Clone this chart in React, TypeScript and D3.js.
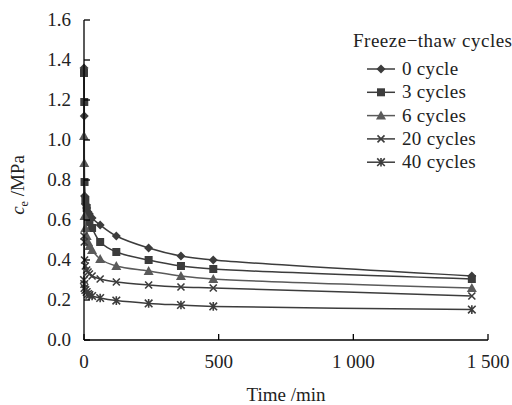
import React from "react";
import * as d3 from "d3";

const times = [0, 1, 2, 5, 10, 15, 20, 30, 60, 120, 240, 360, 480, 1440];
const seriesNames = ["0 cycle", "3 cycles", "6 cycles", "20 cycles", "40 cycles"];
const cycles0 = [1.36, 1.12, 0.72, 0.68, 0.66, 0.64, 0.63, 0.61, 0.575, 0.52, 0.46, 0.42, 0.40, 0.32];
const cycles3 = [1.335, 1.19, 0.79, 0.70, 0.66, 0.62, 0.59, 0.56, 0.49, 0.44, 0.40, 0.37, 0.355, 0.305];
const cycles6 = [1.02, 0.885, 0.62, 0.56, 0.52, 0.49, 0.47, 0.45, 0.405, 0.37, 0.345, 0.32, 0.305, 0.26];
const cycles20 = [0.52, 0.49, 0.40, 0.37, 0.35, 0.34, 0.33, 0.32, 0.305, 0.29, 0.275, 0.265, 0.26, 0.22];
const cycles40 = [0.30, 0.28, 0.26, 0.25, 0.24, 0.23, 0.225, 0.22, 0.21, 0.197, 0.183, 0.175, 0.168, 0.152];
const allSeries = [cycles0, cycles3, cycles6, cycles20, cycles40];
const markerTypes = ["diamond", "square", "triangle", "x", "star"];
const colors = ["#3c3c3c", "#3c3c3c", "#5a5a5a", "#3c3c3c", "#3c3c3c"];
const yTicks = [0, 0.2, 0.4, 0.6, 0.8, 1.0, 1.2, 1.4, 1.6];
const xTicks = [0, 500, 1000, 1500];
const xTickLabels = ["0", "500", "1 000", "1 500"];

const FONT = "'Liberation Serif', 'Times New Roman', serif";
const FS = 19;

function Marker({ type, x, y, color }: { type: string; x: number; y: number; color: string }) {
  if (type === "diamond") {
    const r = 4.5;
    return <path d={`M${x},${y - r}L${x + r},${y}L${x},${y + r}L${x - r},${y}Z`} fill={color} />;
  }
  if (type === "square") {
    const r = 4;
    return <rect x={x - r} y={y - r} width={2 * r} height={2 * r} fill={color} />;
  }
  if (type === "triangle") {
    const r = 5;
    return <path d={`M${x},${y - r}L${x + r},${y + r * 0.8}L${x - r},${y + r * 0.8}Z`} fill={color} />;
  }
  if (type === "x") {
    const r = 3.5;
    return (
      <path d={`M${x - r},${y - r}L${x + r},${y + r}M${x - r},${y + r}L${x + r},${y - r}`} stroke={color} strokeWidth={1.6} fill="none" />
    );
  }
  const r = 3.8;
  return (
    <path
      d={`M${x - r},${y - r}L${x + r},${y + r}M${x - r},${y + r}L${x + r},${y - r}M${x},${y - r - 0.5}L${x},${y + r + 0.5}`}
      stroke={color}
      strokeWidth={1.6}
      fill="none"
    />
  );
}

export default function App() {
  const x = d3.scaleLinear().domain([0, 1500]).range([84, 488]);
  const y = d3.scaleLinear().domain([0, 1.6]).range([340, 20]);
  const line = d3
    .line<number>()
    .x((_, i) => x(times[i]))
    .y((d) => y(d))
    .curve(d3.curveCatmullRom.alpha(0.5));

  const legendX = 367;
  const legendY0 = 69;
  const legendDy = 23.3;

  return (
    <svg width={512} height={405} style={{ position: "absolute", left: 0, top: 0, background: "#fff" }} fontFamily={FONT}>
      <rect width={512} height={405} fill="#fff" />
      {allSeries.map((s, si) => (
        <path key={"l" + si} d={line(s) || ""} fill="none" stroke={colors[si]} strokeWidth={1.5} />
      ))}
      {allSeries.map((s, si) =>
        s.map((v, i) => <Marker key={`m${si}-${i}`} type={markerTypes[si]} x={x(times[i])} y={y(v)} color={colors[si]} />)
      )}
      <line x1={84} x2={84} y1={20} y2={340} stroke="#000" strokeWidth={1.3} />
      <line x1={84} x2={488} y1={340} y2={340} stroke="#000" strokeWidth={1.3} />
      {yTicks.map((t) => (
        <g key={"yt" + t}>
          <line x1={84} x2={90} y1={y(t)} y2={y(t)} stroke="#000" strokeWidth={1.3} />
          <text x={71} y={y(t) + 6} textAnchor="end" fontSize={FS} fill="#222">
            {t.toFixed(1)}
          </text>
        </g>
      ))}
      {xTicks.map((t, i) => (
        <g key={"xt" + t}>
          <line x1={x(t)} x2={x(t)} y1={340} y2={334} stroke="#000" strokeWidth={1.3} />
          <text x={x(t)} y={368} textAnchor="middle" fontSize={FS} fill="#222">
            {xTickLabels[i]}
          </text>
        </g>
      ))}
      <text x={286} y={401} textAnchor="middle" fontSize={FS} fill="#222">
        Time /min
      </text>
      <text transform="translate(24,185) rotate(-90)" textAnchor="middle" fontSize={FS} fill="#222">
        <tspan fontStyle="italic">c</tspan>
        <tspan fontSize={12} dy={4} fontStyle="normal">e</tspan>
        <tspan dy={-4}> /MPa</tspan>
      </text>
      <text x={353} y={47} fontSize={FS} fill="#222" letterSpacing={0.5}>
        Freeze−thaw cycles
      </text>
      {seriesNames.map((n, i) => {
        const ly = legendY0 + i * legendDy;
        return (
          <g key={"lg" + i}>
            <line x1={legendX} x2={legendX + 28} y1={ly} y2={ly} stroke={colors[i]} strokeWidth={1.5} />
            <Marker type={markerTypes[i]} x={legendX + 14} y={ly} color={colors[i]} />
            <text x={402} y={ly + 6} fontSize={FS} fill="#222" letterSpacing={0.3}>
              {n}
            </text>
          </g>
        );
      })}
    </svg>
  );
}
